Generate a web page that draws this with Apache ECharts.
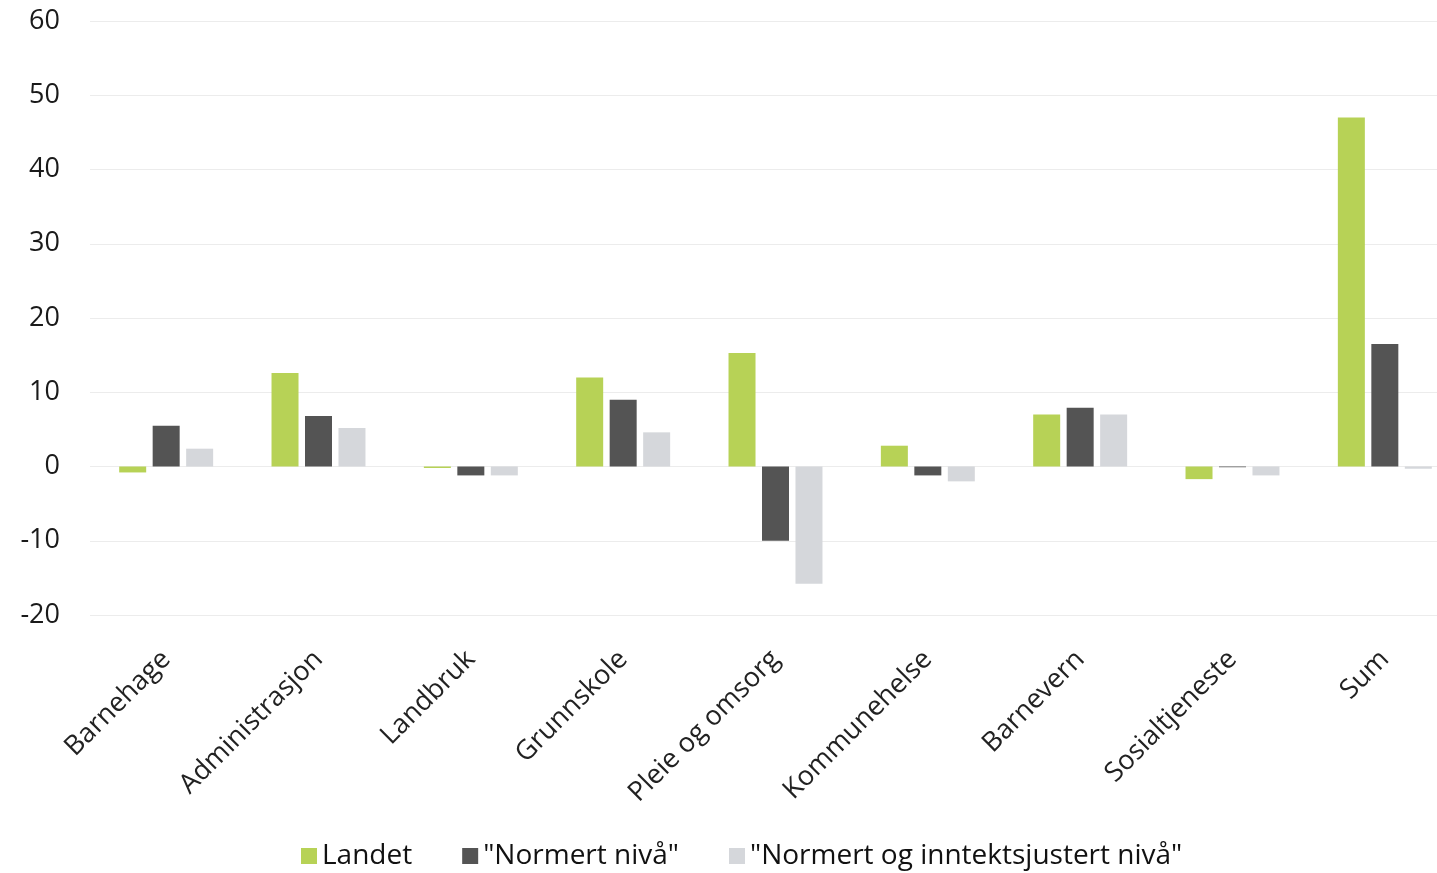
<!DOCTYPE html>
<html><head><meta charset="utf-8">
<script src="https://cdn.jsdelivr.net/npm/echarts@6/dist/echarts.min.js"></script>
<style>html,body{margin:0;padding:0;background:#fff}#c{width:1437px;height:873px}</style>
</head><body><div id="c"></div>
<script>
const categories = ['Barnehage','Administrasjon','Landbruk','Grunnskole','Pleie og omsorg','Kommunehelse','Barnevern','Sosialtjeneste','Sum'];
const landet = [-0.8, 12.6, -0.2, 12.0, 15.3, 2.8, 7.0, -1.7, 47.0];
const normert = [5.5, 6.8, -1.2, 9.0, -10.0, -1.2, 7.9, -0.1, 16.5];
const inntekt = [2.4, 5.2, -1.2, 4.6, -15.8, -2.0, 7.0, -1.2, -0.3];
const seriesNames = ['Landet', '"Normert nivå"', '"Normert og inntektsjustert nivå"'];
const yTicks = {min: -20, max: 60, interval: 10};

const chart = echarts.init(document.getElementById('c'));
const font = '"Open Sans", sans-serif';
chart.setOption({
  animation: false,
  grid: {left: 90, width: 1371, top: 21, bottom: 258, containLabel: false, outerBoundsMode: 'none'},
  legend: {
    bottom: -2, left: 296, itemWidth: 16, itemHeight: 16, itemGap: 50,
    icon: 'rect',
    textStyle: {fontFamily: font, fontSize: 28, color: '#111'},
    data: seriesNames
  },
  xAxis: {
    type: 'category', data: categories,
    axisLine: {show: false}, axisTick: {show: false},
    axisLabel: {rotate: 45, fontFamily: font, fontSize: 27, color: '#222', interval: 0, margin: 40}
  },
  yAxis: {
    type: 'value', min: yTicks.min, max: yTicks.max, interval: yTicks.interval,
    axisLine: {show: false}, axisTick: {show: false},
    axisLabel: {fontFamily: font, fontSize: 27, color: '#1a1a1a', margin: 30},
    splitLine: {lineStyle: {color: '#ececec', width: 1}}
  },
  series: [
    {name: seriesNames[0], type: 'bar', data: landet, barWidth: 27, barGap: '24%', itemStyle: {color: '#b7d256'}},
    {name: seriesNames[1], type: 'bar', data: normert, barWidth: 27, barGap: '24%', itemStyle: {color: '#545454'}},
    {name: seriesNames[2], type: 'bar', data: inntekt, barWidth: 27, barGap: '24%', itemStyle: {color: '#d5d7db'}}
  ]
});
</script></body></html>
